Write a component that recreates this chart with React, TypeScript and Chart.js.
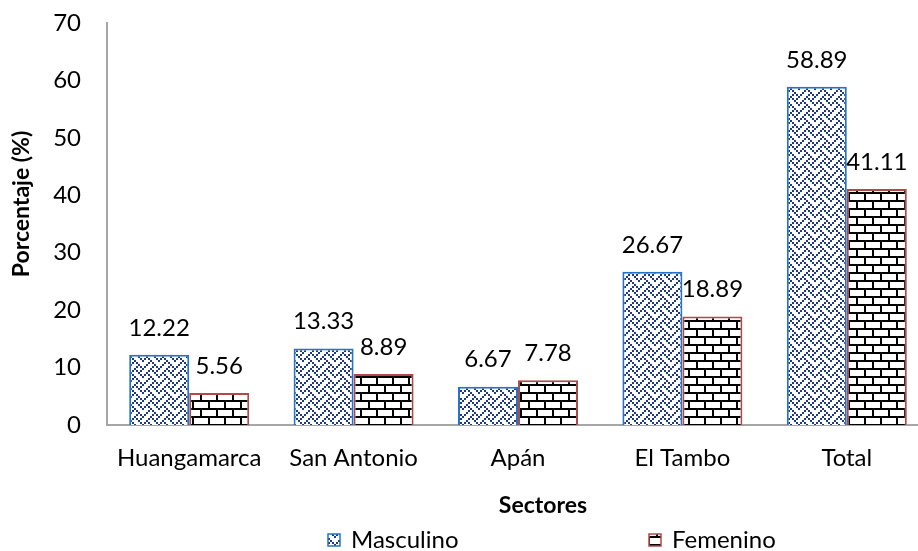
import React, { useEffect, useRef } from "react";
import { Chart, registerables } from "chart.js";

Chart.register(...registerables);

const categories = ["Huangamarca", "San Antonio", "Apán", "El Tambo", "Total"];
const masculino = [12.22, 13.33, 6.67, 26.67, 58.89];
const femenino = [5.56, 8.89, 7.78, 18.89, 41.11];
const seriesNames = ["Masculino", "Femenino"];
const yTitle = "Porcentaje (%)";
const xTitle = "Sectores";

const FONT = "Lato";
const FS = 24;
const MASC_BORDER = "#2374C6";
const MASC_INK = "#1F3A80";
const FEM_BORDER = "#B04A47";
const FEM_INK = "#000000";

const WEAVE = [0x11, 0x2a, 0x44, 0xa2, 0x11, 0x28, 0x44, 0x8a];
const BRICK = [0xff, 0x80, 0x80, 0x80, 0xff, 0x08, 0x08, 0x08];

function makePattern(ctx: CanvasRenderingContext2D, bits: number[], color: string, s = 2) {
  const c = document.createElement("canvas");
  c.width = 8 * s;
  c.height = 8 * s;
  const g = c.getContext("2d")!;
  g.fillStyle = "#ffffff";
  g.fillRect(0, 0, c.width, c.height);
  g.fillStyle = color;
  for (let r = 0; r < 8; r++) {
    for (let col = 0; col < 8; col++) {
      if ((bits[r] >> (7 - col)) & 1) g.fillRect(col * s, r * s, s, s);
    }
  }
  return ctx.createPattern(c, "repeat")!;
}

export default function App() {
  const ref = useRef<HTMLCanvasElement | null>(null);

  useEffect(() => {
    const canvas = ref.current!;
    const ctx = canvas.getContext("2d")!;
    const mascPat = makePattern(ctx, WEAVE, MASC_INK);
    const femPat = makePattern(ctx, BRICK, FEM_INK);

    const labelsPlugin = {
      id: "valueLabels",
      afterDatasetsDraw(chart: any) {
        const c = chart.ctx;
        c.save();
        c.font = `${FS}px ${FONT}`;
        c.fillStyle = "#000";
        c.textAlign = "center";
        c.textBaseline = "middle";
        chart.data.datasets.forEach((ds: any, i: number) => {
          const meta = chart.getDatasetMeta(i);
          meta.data.forEach((el: any, j: number) => {
            c.fillText(Number(ds.data[j]).toFixed(2), el.x, el.y - 27);
          });
        });
        c.restore();
      },
    };

    const titlesPlugin = {
      id: "axisTitles",
      afterDraw(chart: any) {
        const c = chart.ctx;
        c.save();
        c.font = `bold 23px ${FONT}`;
        c.fillStyle = "#000";
        c.textAlign = "center";
        c.textBaseline = "middle";
        c.fillText(xTitle, 543, 506);
        c.translate(22, 204);
        c.rotate(-Math.PI / 2);
        c.fillText(yTitle, 0, 0);
        c.restore();
      },
    };

    const legendPlugin = {
      id: "customLegend",
      afterDraw(chart: any) {
        const c = chart.ctx;
        const items = [
          { x: 328, pat: mascPat, border: MASC_BORDER, text: seriesNames[0] },
          { x: 649, pat: femPat, border: FEM_BORDER, text: seriesNames[1] },
        ];
        const y = 540;
        c.save();
        c.font = `${FS}px ${FONT}`;
        c.textBaseline = "middle";
        c.textAlign = "left";
        items.forEach((it) => {
          c.fillStyle = it.pat;
          c.fillRect(it.x, y - 6, 12, 12);
          c.strokeStyle = it.border;
          c.lineWidth = 1.5;
          c.strokeRect(it.x, y - 6, 12, 12);
          c.fillStyle = "#000";
          c.fillText(it.text, it.x + 23, y);
        });
        c.restore();
      },
    };

    const chart = new Chart(canvas, {
      type: "bar",
      data: {
        labels: categories,
        datasets: [
          {
            label: seriesNames[0],
            data: masculino,
            backgroundColor: mascPat,
            borderColor: MASC_BORDER,
            borderWidth: 2,
            categoryPercentage: 0.73,
            barPercentage: 1,
          },
          {
            label: seriesNames[1],
            data: femenino,
            backgroundColor: femPat,
            borderColor: FEM_BORDER,
            borderWidth: 2,
            categoryPercentage: 0.73,
            barPercentage: 1,
          },
        ],
      },
      options: {
        animation: false,
        responsive: false,
        maintainAspectRatio: false,
        layout: { padding: { top: 23, right: 11, left: 0, bottom: 0 } },
        plugins: {
          legend: { display: false },
          tooltip: { enabled: false },
        },
        scales: {
          x: {
            grid: { display: false, drawTicks: false },
            border: { display: true, color: "#A6A6A6", width: 2 },
            ticks: {
              color: "#000",
              font: { family: FONT, size: FS },
              padding: 19,
            },
            title: { display: false, text: xTitle },
            afterFit(scale: any) {
              scale.height = 126;
            },
          },
          y: {
            min: 0,
            max: 70,
            grid: { display: false, drawTicks: false },
            border: { display: true, color: "#A6A6A6", width: 2 },
            ticks: {
              stepSize: 10,
              color: "#000",
              font: { family: FONT, size: FS },
              padding: 26,
            },
            title: { display: false, text: yTitle },
            afterFit(scale: any) {
              scale.width = 107;
              scale.paddingTop = 0;
              scale.paddingBottom = 0;
            },
          },
        },
      },
      plugins: [labelsPlugin, titlesPlugin, legendPlugin],
    });
    return () => chart.destroy();
  }, []);

  return (
    <div
      style={{
        position: "absolute",
        left: 0,
        top: 0,
        width: 918,
        height: 551,
        overflow: "hidden",
        background: "#fff",
      }}
    >
      <canvas ref={ref} width={940} height={551} style={{ display: "block" }} />
    </div>
  );
}
